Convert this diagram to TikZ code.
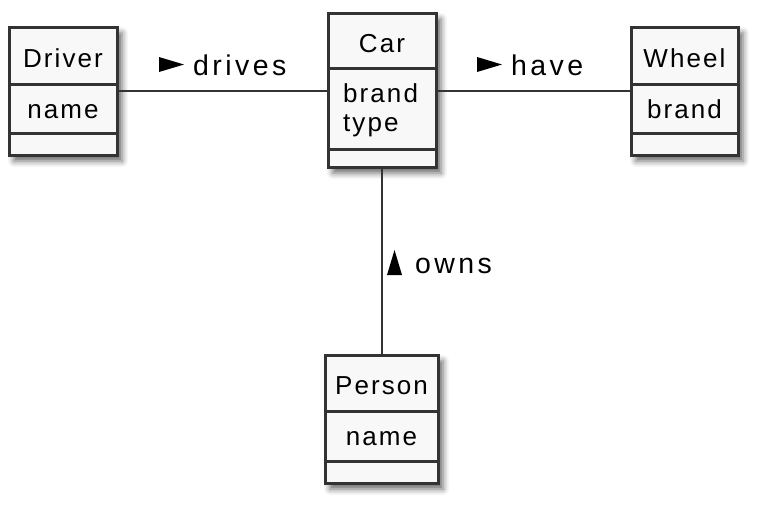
\documentclass[tikz,border=0pt]{standalone}
\usepackage{fontspec}
\setmainfont{Liberation Sans}
\newfontfamily\classfont{Liberation Sans}[LetterSpace=8]
\newfontfamily\labelfont{Liberation Sans}[LetterSpace=12]
\usetikzlibrary{calc,shadows.blur}

\definecolor{umlline}{HTML}{333333}
\definecolor{umlfill}{HTML}{F8F8F8}

\tikzset{
  classbox/.style={draw=umlline, fill=umlfill, line width=3pt, minimum height=128pt, inner sep=0pt,
    blur shadow={shadow xshift=5pt, shadow yshift=-6pt, shadow blur radius=6pt, shadow opacity=60}},
  divider/.style={umlline, line width=2.6pt},
  assoc/.style={umlline, line width=1.6pt},
  classtext/.style={inner sep=0pt, anchor=base, font=\classfont\fontsize{26}{30}\selectfont},
  attrtext/.style={classtext, anchor=base west},
  assoclabel/.style={inner sep=0pt, anchor=base west, font=\labelfont\fontsize{28.5}{33}\selectfont},
}

\begin{document}
\begin{tikzpicture}[x=1pt,y=-1pt]
\useasboundingbox (0,0) rectangle (766,506);

%classes
\node[classbox, minimum width=108pt] (driver) at (63,91) {};
\node[classbox, minimum width=108pt, minimum height=154pt] (car) at (382,90) {};
\node[classbox, minimum width=107pt] (wheel) at (684.5,91) {};
\node[classbox, minimum width=113pt] (person) at (381.5,419) {};

% compartments: offset of the two lines from the top
\foreach \cls/\a/\b in {driver/59/108, car/57/138, wheel/59/108, person/58/108}
{\draw[divider] ($(\cls.north west)+(0,\a)$) -- ($(\cls.north east)+(0,\a)$);
 \draw[divider] ($(\cls.north west)+(0,\b)$) -- ($(\cls.north east)+(0,\b)$);}

\node[classtext] (drivername) at (63,67) {Driver};
\node[classtext] (driverattr) at (63,118) {name};
\node[classtext] (carname) at (382,52) {Car};
\node[attrtext] (carbrand) at (343,102) {brand};
\node[attrtext] (cartype) at (343,131) {type};
\node[classtext] (wheelname) at (684.5,67) {Wheel};
\node[classtext] (wheelattr) at (684.5,118) {brand};
\node[classtext] (personname) at (381.5,394) {Person};
\node[classtext] (personattr) at (381.5,445) {name};

%associations
\draw[assoc] (driver.east) -- (car.west |- driver.east);
\draw[assoc] (car.east |- wheel.west) -- (wheel.west);
\draw[assoc] (car.south) -- (car.south |- person.north);

\node[assoclabel] (drives) at (193,75) {drives};
\node[assoclabel] (have) at (511,75) {have};
\node[assoclabel] (owns) at (415,273.5) {owns};
\foreach \lbl in {drives,have}
{\fill[black] ($(\lbl.base west)+(-34,-18)$) -- ++(25,7.5) -- ++(-25,7.5) -- cycle;}
\fill[black] ($(owns.base west)+(-28,1.5)$) -- ++(15,0) -- ++(-7.5,-25) -- cycle;

\end{tikzpicture}
\end{document}
